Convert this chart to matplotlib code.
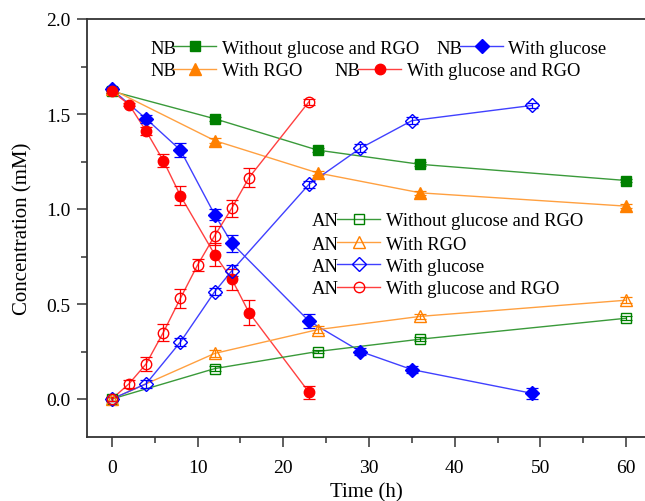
import matplotlib
matplotlib.use("Agg")
import matplotlib.pyplot as plt
from matplotlib.lines import Line2D
from matplotlib.ticker import MultipleLocator

plt.rcParams['font.family'] = ['Liberation Serif', 'DejaVu Serif']

# ---------------- data ----------------
t_short = [0, 12, 24, 36, 60]
t_glu = [0, 4, 8, 12, 14, 23, 29, 35, 49]
t_nb_gr = [0, 2, 4, 6, 8, 12, 14, 16, 23]
t_an_gr = [0, 2, 4, 6, 8, 10, 12, 14, 16, 23]

nb_none = [1.62, 1.475, 1.31, 1.235, 1.15]
nb_none_err = [0.01, 0.01, 0.01, 0.01, 0.01]
nb_rgo = [1.63, 1.36, 1.19, 1.085, 1.015]
nb_rgo_err = [0.01, 0.015, 0.01, 0.01, 0.01]
nb_glu = [1.63, 1.475, 1.31, 0.97, 0.82, 0.41, 0.25, 0.155, 0.03]
nb_glu_err = [0.01, 0.02, 0.035, 0.03, 0.045, 0.035, 0.02, 0.02, 0.03]
nb_gr = [1.62, 1.55, 1.41, 1.255, 1.07, 0.76, 0.63, 0.455, 0.035]
nb_gr_err = [0.01, 0.01, 0.02, 0.035, 0.05, 0.06, 0.055, 0.065, 0.033]

an_none = [0.0, 0.16, 0.25, 0.315, 0.425]
an_none_err = [0.01, 0.012, 0.01, 0.01, 0.01]
an_rgo = [0.0, 0.24, 0.365, 0.435, 0.52]
an_rgo_err = [0.01, 0.02, 0.02, 0.015, 0.015]
an_glu = [0.0, 0.08, 0.30, 0.565, 0.675, 1.13, 1.32, 1.465, 1.545]
an_glu_err = [0.01, 0.02, 0.02, 0.02, 0.03, 0.02, 0.02, 0.02, 0.015]
an_gr = [0.0, 0.08, 0.185, 0.35, 0.53, 0.705, 0.86, 1.005, 1.165, 1.565]
an_gr_err = [0.01, 0.02, 0.035, 0.045, 0.05, 0.03, 0.05, 0.045, 0.05, 0.015]

labels = ["Without glucose and RGO", "With RGO", "With glucose", "With glucose and RGO"]

GREEN = '#008000'
ORANGE = '#ff8000'
BLUE = '#0000ff'
RED = '#ff0000'
GREEN_L = '#3a9a3a'
ORANGE_L = '#ffa040'
BLUE_L = '#4040ff'
RED_L = '#ff4040'

W, H = 645, 502
fig = plt.figure(figsize=(W / 100, H / 100), dpi=100)
ax = fig.add_axes([87 / W, (H - 438) / H, (W - 87) / W, (438 - 20) / H])

styles = [
    # x, y, err, color, line color, marker, size, filled
    (t_short, nb_none, nb_none_err, GREEN, GREEN_L, 's', 6.5, True),
    (t_short, nb_rgo, nb_rgo_err, ORANGE, ORANGE_L, '^', 8, True),
    (t_glu, nb_glu, nb_glu_err, BLUE, BLUE_L, 'D', 7.5, True),
    (t_nb_gr, nb_gr, nb_gr_err, RED, RED_L, 'o', 7.5, True),
    (t_short, an_none, an_none_err, GREEN, GREEN_L, 's', 6.5, False),
    (t_short, an_rgo, an_rgo_err, ORANGE, ORANGE_L, '^', 8, False),
    (t_glu, an_glu, an_glu_err, BLUE, BLUE_L, 'D', 7.5, False),
    (t_an_gr, an_gr, an_gr_err, RED, RED_L, 'o', 7.5, False),
]

for x, y, e, c, lc, m, ms, filled in styles:
    ax.plot(x, y, color=lc, lw=1.0, zorder=2)
    ax.errorbar(x, y, yerr=e, fmt='none', ecolor=c, elinewidth=0.9,
                capsize=4, capthick=0.9, zorder=3)
    ax.plot(x, y, linestyle='none', marker=m, markersize=ms,
            markerfacecolor=c if filled else 'none', markeredgecolor=c,
            markeredgewidth=1.0, zorder=4)

ax.set_xlim(-2.9, 62.2)
ax.set_ylim(-0.2, 2.0)
ax.xaxis.set_major_locator(MultipleLocator(10))
ax.xaxis.set_minor_locator(MultipleLocator(5))
ax.yaxis.set_major_locator(MultipleLocator(0.5))
ax.yaxis.set_minor_locator(MultipleLocator(0.25))
ax.yaxis.set_major_formatter(plt.FuncFormatter(lambda v, p: f"{v:.1f}"))
ax.tick_params(which='major', direction='out', length=7, width=1.1,
               labelsize=14, color='#333333')
ax.tick_params(which='minor', direction='out', length=4, width=1.1, color='#333333')
ax.tick_params(axis='x', pad=9)
ax.tick_params(axis='y', pad=5)
for s in ['left', 'bottom', 'top']:
    ax.spines[s].set_linewidth(1.3)
    ax.spines[s].set_color('#333333')
ax.spines['right'].set_visible(False)

ax.set_xlabel("Time (h)", fontsize=15, labelpad=4)
ax.set_ylabel("Concentration (mM)", fontsize=15, labelpad=10)


# ---------------- manual legends (keys drawn in figure pixels) ----------------
def fx(px):
    return px / W


def fy(py):
    return 1 - py / H


def key(prefix, px_prefix, px_l0, px_l1, px_text, py, text, c, lc, m, ms, filled):
    fig.text(fx(px_prefix), fy(py), prefix, fontsize=13.4, va='center_baseline', ha='left')
    fig.add_artist(Line2D([fx(px_l0), fx(px_l1)], [fy(py), fy(py)], color=lc, lw=1.0,
                          transform=fig.transFigure))
    fig.add_artist(Line2D([fx((px_l0 + px_l1) / 2)], [fy(py)], linestyle='none', marker=m,
                          markersize=ms, markerfacecolor=c if filled else 'none',
                          markeredgecolor=c, markeredgewidth=1.0, transform=fig.transFigure))
    fig.text(fx(px_text), fy(py), text, fontsize=13.4, va='center_baseline', ha='left')


st = styles
key("NB", 150, 173, 216, 222, 47, labels[0], *st[0][3:])
key("NB", 436, 460, 503, 508, 47, labels[2], *st[2][3:])
key("NB", 150, 173, 216, 222, 70, labels[1], *st[1][3:])
key("NB", 334, 358, 401, 407, 70, labels[3], *st[3][3:])

an_rows = [220, 243, 265, 288]
for i, py in enumerate(an_rows):
    key("AN", 312, 337, 380, 386, py, labels[i], *st[4 + i][3:])

fig.savefig("out.png", dpi=100)
